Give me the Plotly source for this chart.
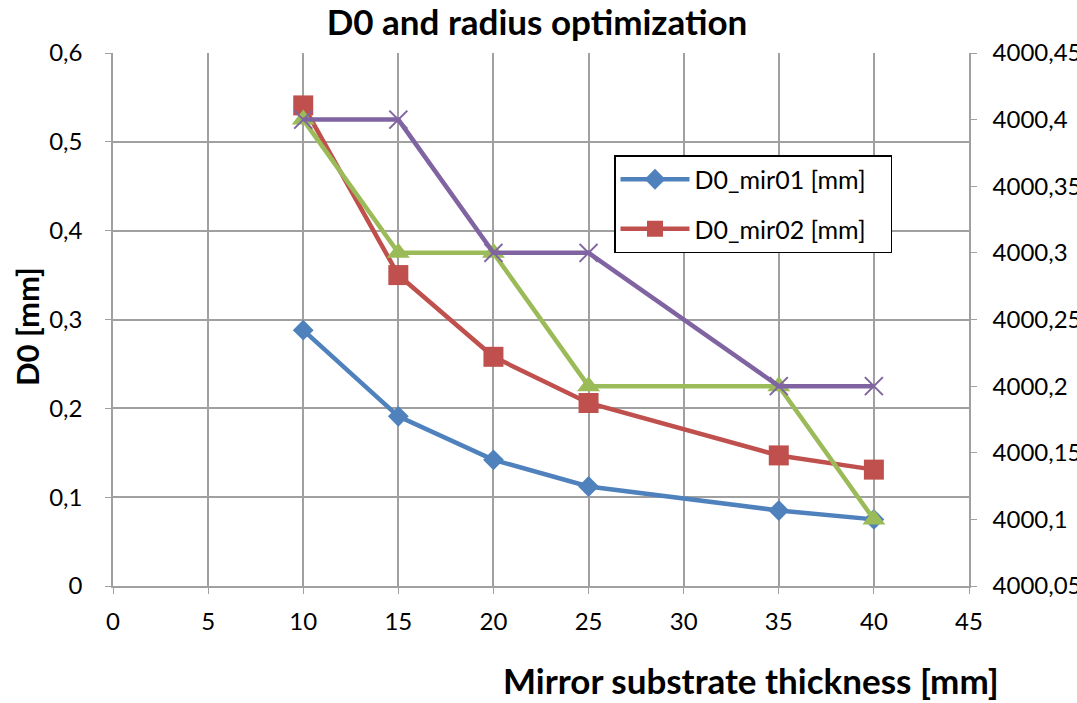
import plotly.graph_objects as go

x = [10, 15, 20, 25, 35, 40]
d0_mir01 = [0.288, 0.191, 0.142, 0.112, 0.085, 0.075]
d0_mir02 = [0.541, 0.350, 0.258, 0.206, 0.147, 0.131]
radius_a = [4000.4, 4000.3, 4000.3, 4000.2, 4000.2, 4000.1]
radius_b = [4000.4, 4000.4, 4000.3, 4000.3, 4000.2, 4000.2]

left_ticks = [0, 0.1, 0.2, 0.3, 0.4, 0.5, 0.6]
left_labels = ["0", "0,1", "0,2", "0,3", "0,4", "0,5", "0,6"]
right_ticks = [4000.05, 4000.1, 4000.15, 4000.2, 4000.25, 4000.3, 4000.35, 4000.4, 4000.45]
right_labels = ["4000,05", "4000,1", "4000,15", "4000,2", "4000,25", "4000,3", "4000,35", "4000,4", "4000,45"]
x_ticks = [0, 5, 10, 15, 20, 25, 30, 35, 40, 45]

FONT = "Lato, Open Sans, sans-serif"
GRID = "#a0a0a0"
PAD = "\u00a0\u00a0\u00a0"

fig = go.Figure()
fig.add_trace(go.Scatter(x=x, y=d0_mir01, name="D0_mir01 [mm]" + PAD, mode="lines+markers",
                         legendgroup="a",
                         line=dict(color="#4f81bd", width=4.5),
                         marker=dict(symbol="diamond", size=16, color="#4f81bd")))
fig.add_trace(go.Scatter(x=x, y=d0_mir02, name="D0_mir02 [mm]" + PAD, mode="lines+markers",
                         legendgroup="b",
                         line=dict(color="#c0504d", width=4.5),
                         marker=dict(symbol="square", size=20, color="#c0504d")))
fig.add_trace(go.Scatter(x=x, y=radius_a, name="R_a", mode="lines+markers", yaxis="y2",
                         showlegend=False,
                         line=dict(color="#9bbb59", width=4.5),
                         marker=dict(symbol="triangle-up", size=20, color="#9bbb59")))
fig.add_trace(go.Scatter(x=x, y=radius_b, name="R_b", mode="lines+markers", yaxis="y2",
                         showlegend=False,
                         line=dict(color="#8064a2", width=4.5),
                         marker=dict(symbol="x-thin", size=18, color="#8064a2",
                                     line=dict(color="#8064a2", width=2))))

fig.update_layout(
    width=1077, height=703,
    margin=dict(l=113, r=108, t=53, b=117),
    plot_bgcolor="white", paper_bgcolor="white",
    font=dict(family=FONT, size=24, color="black"),
    title=dict(text="<b>D0 and radius optimization</b>", x=537 / 1077, xanchor="center",
               y=1 - 23 / 703, yanchor="middle", font=dict(size=35, family=FONT)),
    xaxis=dict(range=[0, 45], tickvals=x_ticks, showgrid=True, gridcolor=GRID, gridwidth=1.5,
               showline=True, linecolor=GRID, linewidth=1.5, ticks="outside", ticklen=6,
               tickcolor=GRID, zeroline=False, automargin=False, ticklabelstandoff=7),
    yaxis=dict(range=[0, 0.6], tickvals=left_ticks, ticktext=left_labels, showgrid=True,
               gridcolor=GRID, gridwidth=1.5, showline=True, linecolor=GRID, linewidth=1.5,
               ticks="outside", ticklen=6, tickcolor=GRID, zeroline=False, automargin=False,
               ticklabelstandoff=18),
    yaxis2=dict(range=[4000.05, 4000.45], tickvals=right_ticks, ticktext=right_labels,
                overlaying="y", side="right", showgrid=False, showline=True, linecolor=GRID,
                linewidth=1.5, ticks="outside", ticklen=6, tickcolor=GRID, zeroline=False,
                automargin=False, ticklabelstandoff=11),
    legend=dict(x=(614 - 113) / 856, y=(586 - 155) / 533, xanchor="left", yanchor="top",
                bordercolor="black", borderwidth=1.5, bgcolor="white", font=dict(size=25),
                tracegroupgap=14, itemwidth=69),
    annotations=[
        dict(text="<b>Mirror substrate thickness [mm]</b>", xref="paper", yref="paper",
             x=(1001 - 113) / 856, y=(586 - 680) / 533, xanchor="right", yanchor="middle",
             showarrow=False, font=dict(size=35)),
        dict(text="<b>D0 [mm]</b>", xref="paper", yref="paper", textangle=-90,
             x=(27 - 113) / 856, y=(586 - 327) / 533, xanchor="center", yanchor="middle",
             showarrow=False, font=dict(size=31)),
    ],
)
fig.write_html("out.html")
